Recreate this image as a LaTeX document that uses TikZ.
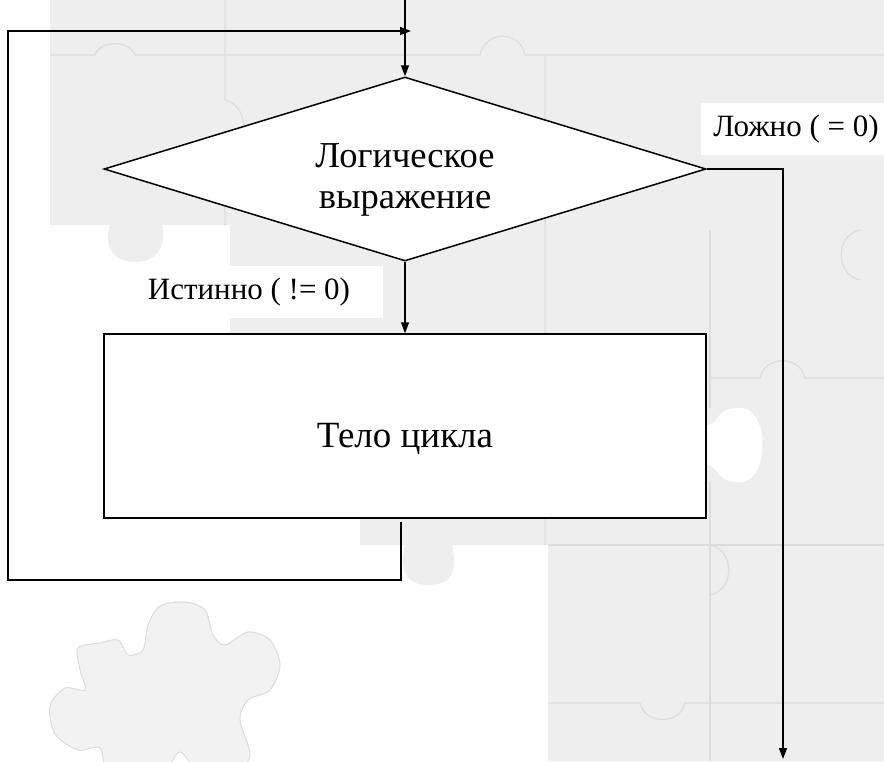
\documentclass[tikz,border=0pt]{standalone}
\usepackage{fontspec}
\setmainfont{Liberation Serif}
\usetikzlibrary{arrows.meta,shapes.geometric}
\definecolor{puzzle}{HTML}{EEEEEE}
\definecolor{puzzlelight}{HTML}{F2F2F2}
\definecolor{puzzleedge}{HTML}{DCDCDC}
\begin{document}
\begin{tikzpicture}[x=1pt,y=-1pt,
  flow/.style={line width=1.5pt,draw=black},
  arr/.style={-{Triangle[length=11pt,width=8pt]}},
  mainfont/.style={font=\fontsize{36.5}{41}\selectfont},
  labelfont/.style={font=\fontsize{31}{36}\selectfont},
  tag/.style={labelfont,fill=white,inner sep=0pt,minimum height=52pt},
  seam/.style={draw=puzzleedge,line width=1.2pt}]
\useasboundingbox (0,0) rectangle (884,761);
\fill[white] (0,0) rectangle (884,761);

% puzzle backdrop
\begin{scope}
\clip (0,0) rectangle (884,761);
\fill[puzzle] (50,0) -- (884,0) -- (884,761) -- (548,761) -- (548,545)
  -- (452,545) .. controls (456,562) and (458,585) .. (428,585)
  .. controls (400,585) and (401,562) .. (405,545)
  -- (360,545) -- (360,334) -- (230,334) -- (230,225) -- (162,225)
  .. controls (166,242) and (160,262) .. (135,262)
  .. controls (110,262) and (104,242) .. (110,225) -- (50,225) -- cycle;
\fill[white] (705,425) .. controls (722,425) and (712,408) .. (740,408)
  .. controls (770,408) and (770,482) .. (740,482)
  .. controls (712,482) and (722,465) .. (705,465) -- cycle;
% seams between the pieces
\draw[seam] (50,55) -- (95,55) .. controls (100,40) and (130,40) .. (135,55)
  -- (480,55) .. controls (485,30) and (520,30) .. (525,55) -- (884,55);
\draw[seam] (225,0) -- (225,100) .. controls (250,105) and (250,150) .. (225,155) -- (225,225);
\draw[seam] (545,55) -- (545,120) .. controls (575,125) and (575,165) .. (545,170) -- (545,545);
\draw[seam] (710,230) -- (710,408);
\draw[seam] (710,482) -- (710,761);
\draw[seam] (710,378) -- (760,378) .. controls (765,355) and (800,355) .. (805,378) -- (884,378);
\draw[seam] (548,545) -- (884,545);
\draw[seam] (548,703) -- (640,703) .. controls (645,725) and (680,725) .. (685,703) -- (884,703);
\draw[seam] (710,545) .. controls (735,550) and (735,590) .. (710,595);
\draw[seam] (860,230) .. controls (835,235) and (835,275) .. (860,280);
\filldraw[fill=puzzlelight,draw=puzzleedge,line width=1pt]
  plot[smooth cycle] coordinates {(78,648) (100,643) (118,640) (128,655)
  (143,650) (148,625) (160,606) (185,602) (205,610) (213,635) (225,645)
  (248,632) (270,640) (280,665) (270,690) (248,700) (240,720) (250,755)
  (235,775) (200,775) (180,752) (160,775) (110,775) (100,748) (78,750)
  (55,734) (50,706) (65,688) (85,690) (80,670)};
\end{scope}

% branch labels
\node[tag,minimum width=190pt] (lfalse) at (796,129) {Ложно ( = 0)};
\node[tag,minimum width=268pt] (ltrue) at (249,292) {Истинно ( != 0)};

% flowchart
\node[flow,diamond,fill=white,minimum width=602pt,minimum height=184pt,
  shape aspect=3.27,inner sep=0pt] (cond) at (405,169) {};
\node[mainfont,align=center,anchor=base,inner sep=0pt] (condtext) at (405,208)
  {Логическое\\выражение};
\node[flow,rectangle,fill=white,minimum width=602pt,minimum height=184pt,
  text height=42pt,text depth=0pt,font=\fontsize{37}{43}\selectfont]
  (body) at (405,426) {Тело цикла};

\coordinate (entry) at (405,0);
\coordinate (loopL) at (8,580);
\coordinate (loopEnd) at (411,31);
\coordinate (exit) at (783,759);

\draw[flow,arr] (entry) -- (cond.north);
\draw[flow,arr] (cond.south) -- (body.north);
\draw[flow,arr] ([xshift=-4pt,yshift=-3pt]body.south) |- (loopL) |- (loopEnd);
\draw[flow,arr] (cond.east) -| (exit);
\end{tikzpicture}
\end{document}
